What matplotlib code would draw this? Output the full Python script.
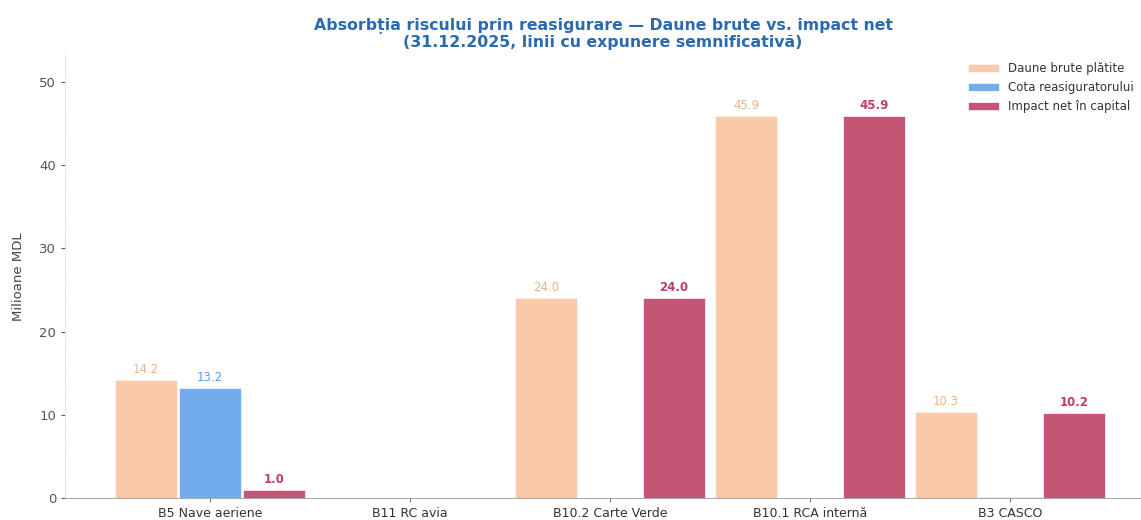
import matplotlib
matplotlib.use("Agg")
import matplotlib.pyplot as plt
import numpy as np

categories = ["B5 Nave aeriene", "B11 RC avia", "B10.2 Carte Verde", "B10.1 RCA internă", "B3 CASCO"]
gross = [14.2, 0.0, 24.0, 45.9, 10.3]
reins = [13.2, 0.0, 0.0, 0.0, 0.1]
net = [1.0, 0.0, 24.0, 45.9, 10.2]
series_names = ["Daune brute plătite", "Cota reasiguratorului", "Impact net în capital"]

plt.rcParams['font.family'] = ['DejaVu Sans']
fig = plt.figure(figsize=(11.41, 5.2), dpi=100)
ax = fig.add_axes([0.057, 0.042, 0.943, 0.852])

x = np.arange(len(categories))
w = 0.31
off = 0.32
colors = ["#F9C09A", "#6BA8EE", "#BF4D6C"]
alphas = [0.85, 0.95, 0.95]
lblcolors = ["#E6B48F", "#5C9BE6", "#BF3F64"]
weights = ["normal", "normal", "bold"]

for i, (vals, name) in enumerate(zip([gross, reins, net], series_names)):
    bars = ax.bar(x + (i - 1) * off, vals, width=w, color=colors[i], alpha=alphas[i],
                  label=name, edgecolor="white", linewidth=0.5)
    for b, v in zip(bars, vals):
        if v >= 0.5:
            ax.text(b.get_x() + b.get_width() / 2, v + 0.5, f"{v:.1f}", ha="center", va="bottom",
                    fontsize=8.5, color=lblcolors[i], fontweight=weights[i])

ax.set_xticks(x)
ax.set_xticklabels(categories, fontsize=9, color="#333333")
ax.set_xlim(-0.725, 4.655)
ax.set_ylim(0, 53.2)
ax.set_yticks([0, 10, 20, 30, 40, 50])
ax.tick_params(axis="y", labelsize=9.5, colors="#555555", length=3)
ax.tick_params(axis="x", length=3, colors="#777777", labelcolor="#333333")
ax.set_ylabel("Milioane MDL", fontsize=9.5, color="#444444", labelpad=10)
for s in ["top", "right"]:
    ax.spines[s].set_visible(False)
ax.spines["left"].set_color("#dddddd")
ax.spines["left"].set_linestyle(":")
ax.spines["bottom"].set_color("#aaaaaa")

ax.set_title("Absorbția riscului prin reasigurare — Daune brute vs. impact net\n(31.12.2025, linii cu expunere semnificativă)",
             fontsize=11.3, fontweight="bold", color="#2A6AB0", pad=6, linespacing=1.1)

leg = ax.legend(loc="upper right", frameon=False, fontsize=8.5, bbox_to_anchor=(1.0, 1.0),
                borderaxespad=0.2, handlelength=2.6, labelcolor="#333333")

fig.savefig("out.png", dpi=100)
